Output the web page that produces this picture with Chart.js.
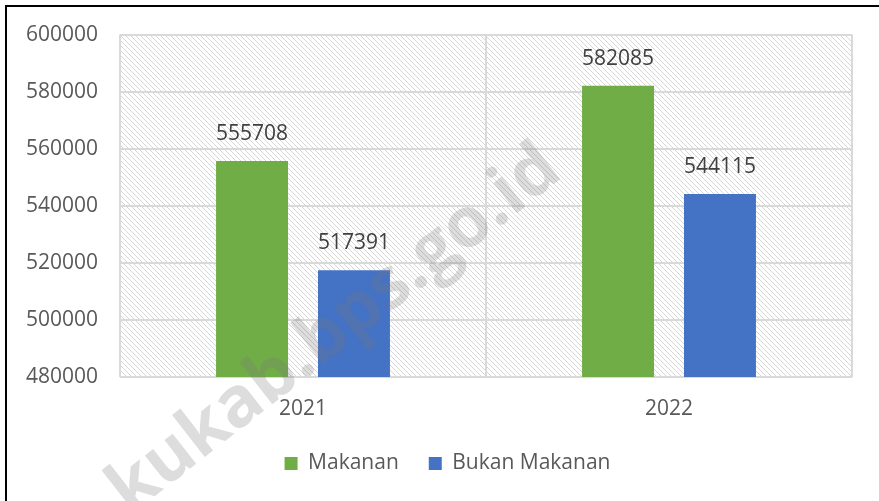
<!DOCTYPE html>
<html>
<head>
<meta charset="utf-8">
<script src="https://cdn.jsdelivr.net/npm/chart.js@4/dist/chart.umd.min.js"></script>
<style>
  html, body { margin: 0; padding: 0; background: #ffffff; }
  #wrap { width: 879px; height: 501px; position: relative; }
</style>
</head>
<body>
<div id="wrap"><canvas id="c" width="879" height="501"></canvas></div>
<script>
const categories = ['2021', '2022'];
const makanan = [555708, 582085];
const bukanMakanan = [517391, 544115];
const seriesNames = ['Makanan', 'Bukan Makanan'];
const yTicks = [480000, 500000, 520000, 540000, 560000, 580000, 600000];
const watermark = 'kukab.bps.go.id';

const FONT = 'Open Sans';
const TXT = '#595959';

function makeHatch() {
  const t = document.createElement('canvas');
  t.width = 5; t.height = 5;
  const g = t.getContext('2d');
  g.fillStyle = '#ffffff';
  g.fillRect(0, 0, 5, 5);
  g.fillStyle = '#d6d6d6';
  for (let i = 0; i < 5; i++) g.fillRect(i, i, 1, 1);
  return t;
}

const hatchPlugin = {
  id: 'hatch',
  beforeDraw(chart) {
    const {ctx, chartArea: a} = chart;
    ctx.save();
    ctx.fillStyle = ctx.createPattern(makeHatch(), 'repeat');
    ctx.fillRect(a.left, a.top, a.right - a.left, a.bottom - a.top);
    ctx.restore();
  }
};

const valueLabels = {
  id: 'valueLabels',
  afterDatasetsDraw(chart) {
    const {ctx} = chart;
    ctx.save();
    ctx.font = '21px "' + FONT + '"';
    ctx.fillStyle = '#404040';
    ctx.textAlign = 'center';
    ctx.textBaseline = 'alphabetic';
    chart.data.datasets.forEach((ds, i) => {
      chart.getDatasetMeta(i).data.forEach((el, j) => {
        ctx.fillText(String(ds.data[j]), el.x, el.y - 21);
      });
    });
    ctx.restore();
  }
};

const decor = {
  id: 'decor',
  afterDraw(chart) {
    const {ctx} = chart;
    ctx.save();
    // watermark
    ctx.translate(335, 330);
    ctx.rotate(-38 * Math.PI / 180);
    ctx.font = 'bold 70px "' + FONT + '"';
    ctx.fillStyle = 'rgba(120,120,120,0.25)';
    ctx.textAlign = 'center';
    ctx.textBaseline = 'middle';
    ctx.fillText(watermark, 0, 0);
    ctx.restore();
    // outer frame
    ctx.save();
    ctx.strokeStyle = '#000000';
    ctx.lineWidth = 2;
    ctx.beginPath();
    ctx.moveTo(6, 501);
    ctx.lineTo(6, 6);
    ctx.lineTo(879, 6);
    ctx.stroke();
    ctx.restore();
  }
};

new Chart(document.getElementById('c'), {
  type: 'bar',
  data: {
    labels: categories,
    datasets: [
      { label: seriesNames[0], data: makanan, backgroundColor: '#70AD47', yAxisID: 'y' },
      { label: seriesNames[1], data: bukanMakanan, backgroundColor: '#4472C4', yAxisID: 'y' }
    ]
  },
  options: {
    responsive: false,
    animation: false,
    devicePixelRatio: 1,
    categoryPercentage: 0.557,
    barPercentage: 0.706,
    layout: { padding: { top: 34, left: 16, right: 0, bottom: 17 } },
    plugins: {
      legend: {
        position: 'bottom',
        labels: {
          boxWidth: 13, boxHeight: 13, padding: 30,
          color: TXT,
          font: { family: FONT, size: 21 }
        }
      },
      tooltip: { enabled: false }
    },
    scales: {
      x: {
        grid: { color: '#d9d9d9', lineWidth: 2, drawTicks: false, offset: true },
        border: { display: false },
        ticks: { color: TXT, font: { family: FONT, size: 21 }, padding: 19 },
        afterFit(s) { s.height = 46; }
      },
      y: {
        min: 480000, max: 600000,
        afterBuildTicks(s) { s.ticks = yTicks.map(v => ({ value: v })); },
        grid: { color: '#d9d9d9', lineWidth: 2, drawTicks: false },
        border: { display: false },
        ticks: {
          color: TXT, font: { family: FONT, size: 21 }, padding: 22,
          callback: v => String(v)
        },
        afterFit(s) { s.width = 104; }
      },
      yRight: {
        position: 'right',
        display: true,
        grid: { display: false, drawTicks: false },
        border: { display: false },
        ticks: { display: false },
        afterFit(s) { s.width = 27; }
      }
    }
  },
  plugins: [hatchPlugin, valueLabels, decor]
});
</script>
</body>
</html>
